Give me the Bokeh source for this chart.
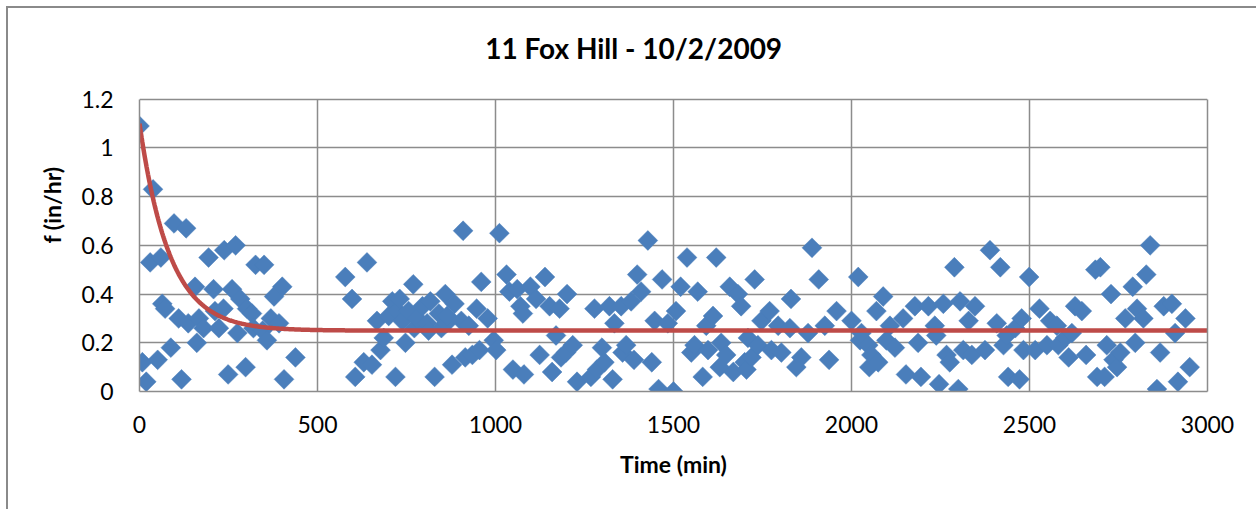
import numpy as np
from bokeh.plotting import figure
from bokeh.models import Range1d, FixedTicker, ColumnDataSource, Label, LinearAxis
from bokeh.embed import file_html
from bokeh.resources import INLINE

time_min = [0, 8, 19, 30, 38, 51, 60, 64, 72, 88, 97, 110, 118, 131, 137, 156, 161, 167, 180, 194,
            208, 212, 223, 236, 238, 249, 260, 270, 275, 283, 298, 302, 316, 320, 326, 346, 350, 358,
            369, 378, 392, 401, 406, 438,
            578, 597, 606, 630, 639, 653, 667, 677, 686, 700, 710, 719, 725, 731, 738, 747, 756, 769,
            772, 780, 795, 808, 812, 817, 829, 841, 848, 859, 862, 864, 878, 885, 904, 909, 915, 925,
            935, 947, 955, 960, 978, 995,
            1002, 1011, 1031, 1039, 1049, 1061, 1070, 1077, 1080, 1098, 1114, 1124, 1139, 1152, 1159,
            1170, 1180, 1184, 1198, 1201, 1217, 1229, 1268, 1278, 1285, 1299, 1306, 1320, 1329, 1334,
            1353, 1357, 1367, 1381, 1389, 1398, 1409, 1428, 1439, 1447, 1458, 1468, 1484, 1500, 1507,
            1520, 1538, 1550, 1559, 1568, 1582, 1592, 1597, 1611, 1620, 1630, 1634, 1648, 1658, 1668,
            1681, 1690, 1700, 1705, 1709, 1719, 1728, 1737, 1747, 1770, 1775, 1794, 1803, 1827, 1830,
            1845, 1859, 1878, 1889, 1908, 1925, 1937, 1958,
            2000, 2019, 2024, 2028, 2047, 2050, 2056, 2070, 2075, 2089, 2098, 2108, 2122, 2145, 2153,
            2178, 2187, 2195, 2216, 2234, 2238, 2246, 2258, 2267, 2276, 2289, 2300, 2305, 2314, 2329,
            2338, 2347, 2375, 2389, 2408, 2418, 2427, 2436, 2440, 2460, 2472, 2478, 2483, 2499, 2516,
            2528, 2549, 2558, 2577, 2581, 2600, 2610, 2619, 2628, 2647, 2659, 2685, 2690, 2699, 2711,
            2717, 2729, 2736, 2746, 2755, 2769, 2790, 2797, 2802, 2820, 2828, 2839, 2858, 2867, 2877,
            2900, 2909, 2917, 2938, 2950]
f_obs = [1.09, 0.12, 0.04, 0.53, 0.83, 0.13, 0.55, 0.36, 0.34, 0.18, 0.69, 0.30, 0.05, 0.67, 0.28, 0.43, 0.20, 0.30, 0.26, 0.55,
         0.42, 0.33, 0.26, 0.34, 0.58, 0.07, 0.42, 0.60, 0.24, 0.38, 0.10, 0.34, 0.32, 0.26, 0.52, 0.25, 0.52, 0.21,
         0.30, 0.39, 0.28, 0.43, 0.05, 0.14,
         0.47, 0.38, 0.06, 0.12, 0.53, 0.11, 0.29, 0.17, 0.22, 0.31, 0.37, 0.06, 0.33, 0.38, 0.29, 0.20, 0.33, 0.44,
         0.26, 0.30, 0.35, 0.28, 0.25, 0.37, 0.06, 0.32, 0.26, 0.40, 0.28, 0.31, 0.11, 0.36, 0.29, 0.66, 0.14, 0.27,
         0.15, 0.34, 0.17, 0.45, 0.30, 0.21,
         0.17, 0.65, 0.48, 0.41, 0.09, 0.42, 0.35, 0.32, 0.07, 0.43, 0.38, 0.15, 0.47, 0.35, 0.08,
         0.23, 0.34, 0.14, 0.16, 0.40, 0.19, 0.04, 0.06, 0.34, 0.09, 0.18, 0.12, 0.35, 0.05, 0.28,
         0.35, 0.16, 0.19, 0.37, 0.13, 0.48, 0.41, 0.62, 0.12, 0.29, 0.01, 0.46, 0.28, 0.00, 0.33,
         0.43, 0.55, 0.16, 0.19, 0.41, 0.06, 0.27, 0.17, 0.31, 0.55, 0.10, 0.20, 0.15, 0.43, 0.08,
         0.40, 0.35, 0.12, 0.09, 0.22, 0.14, 0.46, 0.19, 0.29, 0.33, 0.17, 0.27, 0.16, 0.26, 0.38,
         0.10, 0.14, 0.24, 0.59, 0.46, 0.27, 0.13, 0.33,
         0.29, 0.47, 0.21, 0.24, 0.19, 0.10, 0.15, 0.33, 0.12, 0.39, 0.21, 0.27, 0.18, 0.30, 0.07,
         0.35, 0.20, 0.06, 0.35, 0.27, 0.23, 0.03, 0.36, 0.15, 0.12, 0.51, 0.01, 0.37, 0.17, 0.29,
         0.15, 0.35, 0.17, 0.58, 0.28, 0.51, 0.19, 0.23, 0.06, 0.26, 0.05, 0.30, 0.17, 0.47, 0.17,
         0.34, 0.19, 0.29, 0.27, 0.19, 0.22, 0.14, 0.24, 0.35, 0.33, 0.15, 0.50, 0.06, 0.51, 0.06,
         0.19, 0.40, 0.13, 0.10, 0.16, 0.30, 0.43, 0.20, 0.34, 0.30, 0.48, 0.60, 0.01, 0.16, 0.35,
         0.36, 0.24, 0.04, 0.30, 0.10]

# Horton fit parameters (red curve)
f0 = 1.10   # initial rate, in/hr
fc = 0.25   # final rate, in/hr
k_decay = 0.0118  # 1/min

x_ticks = [0, 500, 1000, 1500, 2000, 2500, 3000]
y_ticks = [0, 0.2, 0.4, 0.6, 0.8, 1.0, 1.2]
y_tick_labels = ["0", "0.2", "0.4", "0.6", "0.8", "1", "1.2"]

title_text = "11 Fox Hill - 10/2/2009"
x_label = "Time (min)"
y_label = "f (in/hr)"

FONT = "Lato"
GRID = "#8c8c8c"

# The frame is extended upward so that the title can sit inside it;
# the visible plot box stays at 0..1.2.
Y_MAX = y_ticks[-1]
FRAME_TOP, FRAME_BOTTOM, BOX_TOP = 10, 383, 90.7
y_end = Y_MAX * (FRAME_BOTTOM - FRAME_TOP) / (FRAME_BOTTOM - BOX_TOP)

p = figure(width=1250, height=503, output_backend="svg", toolbar_location=None,
           x_range=Range1d(x_ticks[0], x_ticks[-1]), y_range=Range1d(0, y_end),
           min_border_left=131, min_border_right=51, min_border_top=FRAME_TOP, min_border_bottom=120,
           background_fill_color="white", border_fill_color="white")
p.styles = {"margin-left": "6px", "margin-top": "6px",
            "border-left": "2px solid #8a8a8a", "border-top": "2px solid #8a8a8a"}
p.outline_line_color = None

# horizontal grid lines (include the top of the box at 1.2)
p.ygrid[0].ticker = FixedTicker(ticks=y_ticks)
p.ygrid[0].grid_line_color = GRID
p.ygrid[0].grid_line_width = 1.5
# vertical grid lines, limited to 0..1.2
p.xgrid[0].visible = False
inner_x = x_ticks[1:-1]
p.segment(x0=inner_x, y0=[y_ticks[0]] * len(inner_x), x1=inner_x, y1=[Y_MAX] * len(inner_x),
          line_color=GRID, line_width=1.5, level="underlay")

xa = p.xaxis[0]
ya = p.yaxis[0]
xa.ticker = FixedTicker(ticks=x_ticks)
ya.ticker = FixedTicker(ticks=y_ticks)
ya.bounds = (0, Y_MAX)
ya.major_label_overrides = {t: s for t, s in zip(y_ticks, y_tick_labels)}
for ax in (xa, ya):
    ax.axis_line_color = GRID
    ax.axis_line_width = 1.5
    ax.major_tick_line_color = None
    ax.minor_tick_line_color = None
    ax.major_tick_out = 0
    ax.major_tick_in = 0
    ax.major_label_text_font = FONT
    ax.major_label_text_font_size = "23px"
    ax.major_label_text_color = "black"
    ax.axis_label_text_font = FONT
    ax.axis_label_text_font_style = "bold"
    ax.axis_label_text_font_size = "23px"
    ax.axis_label_text_color = "black"
xa.axis_label = x_label
ya.axis_label = y_label
xa.major_label_standoff = 24
ya.major_label_standoff = 26
xa.axis_label_standoff = 14
ya.axis_label_standoff = 12

# right border of the plot box
ra = LinearAxis(ticker=FixedTicker(ticks=[]), bounds=(0, Y_MAX), axis_line_color=GRID,
                axis_line_width=1.5, major_tick_line_color=None, minor_tick_line_color=None,
                major_label_text_font_size="0px")
p.add_layout(ra, "right")

src = ColumnDataSource(data=dict(t=time_min, f=f_obs))
p.scatter("t", "f", source=src, marker="square", size=14, angle=np.pi / 4,
          fill_color="#4A7EBB", line_color="#4A7EBB", line_width=0.5)

t_fit = np.linspace(0, 3000, 1501)
f_fit = fc + (f0 - fc) * np.exp(-k_decay * t_fit)
p.line(t_fit, f_fit, line_color="#BE4B48", line_width=4.5)

p.add_layout(Label(x=1388, y=1.41, text=title_text, text_align="center", text_baseline="middle",
                   text_font=FONT, text_font_style="bold", text_font_size="28px", text_color="black"))

open("out.html", "w").write(file_html(p, INLINE))
